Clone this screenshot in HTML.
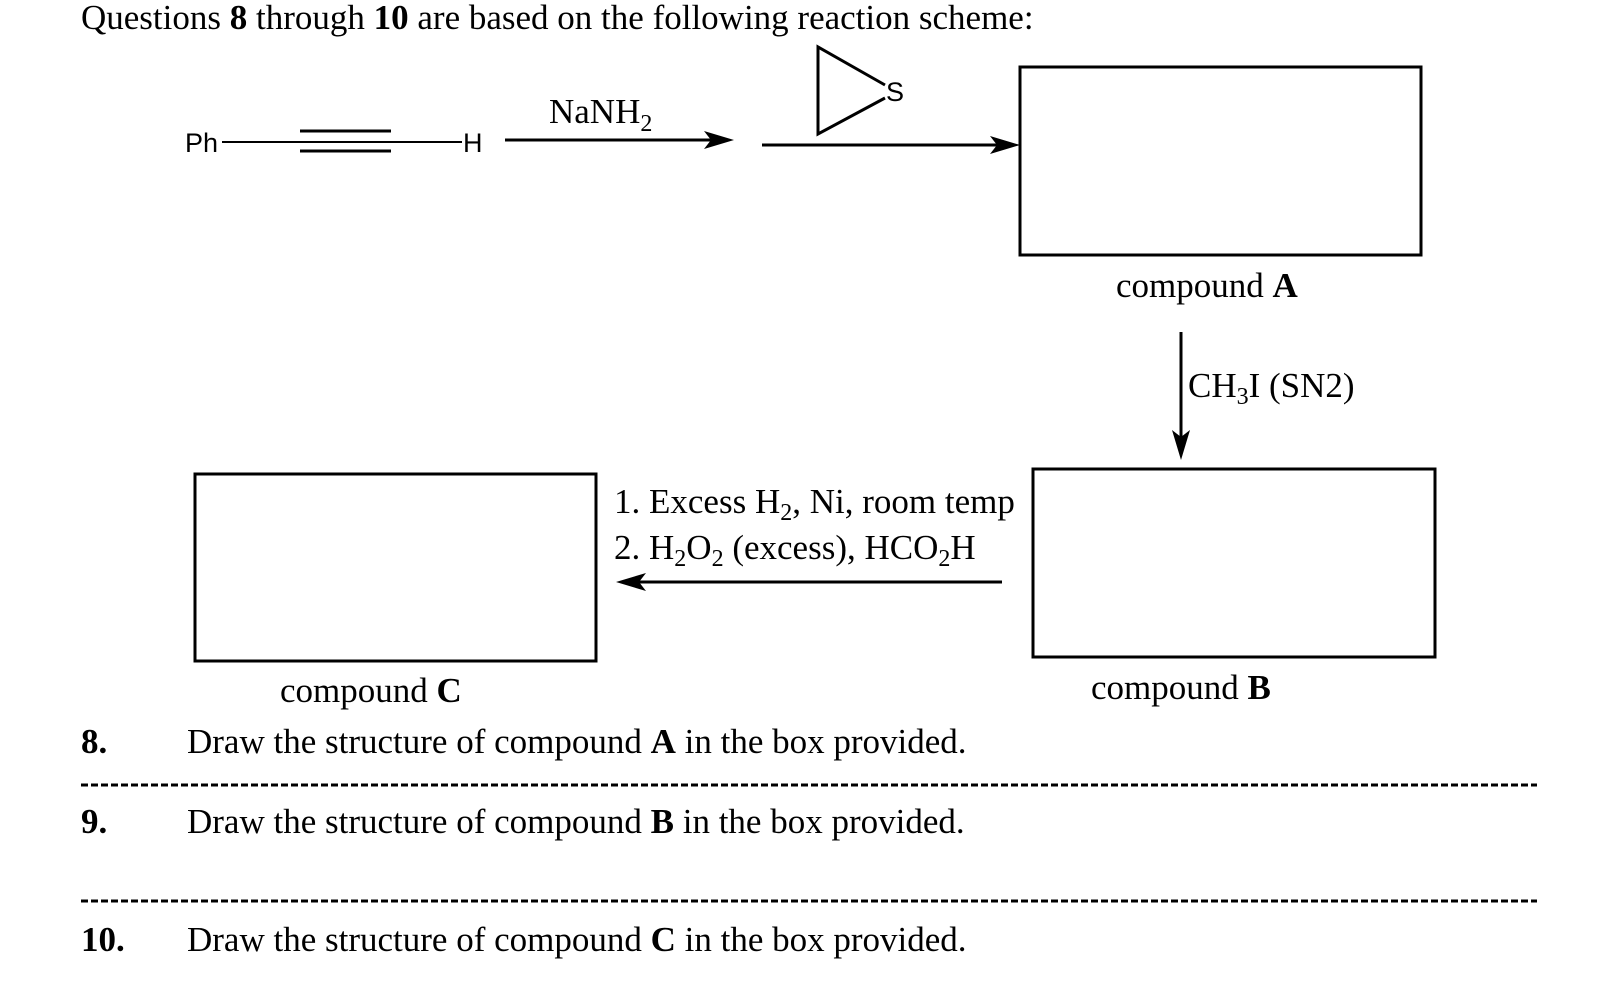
<!DOCTYPE html>
<html><head><meta charset="utf-8"><style>
html,body{margin:0;padding:0;background:#fff;}
svg{display:block;}
.t{font-family:"Liberation Serif",serif;font-size:35px;fill:#000;}
.s{font-family:"Liberation Sans",sans-serif;font-size:27px;fill:#000;}
</style></head><body>
<svg width="1622" height="990" viewBox="0 0 1622 990" xmlns="http://www.w3.org/2000/svg">
<text class="t" x="81" y="29">Questions <tspan font-weight="bold">8</tspan> through <tspan font-weight="bold">10</tspan> are based on the following reaction scheme:</text>

<text class="s" x="185" y="152">Ph</text>
<line x1="222" y1="142" x2="462" y2="142" stroke="#000" stroke-width="2"/>
<line x1="300" y1="131" x2="391" y2="131" stroke="#000" stroke-width="3"/>
<line x1="300" y1="151" x2="391" y2="151" stroke="#000" stroke-width="3"/>
<text class="s" x="463" y="152">H</text>
<text class="t" x="549" y="123">NaNH<tspan font-size="24" dy="8">2</tspan></text>
<line x1="505" y1="140" x2="715" y2="140" stroke="#000" stroke-width="3"/>
<polygon points="734,140 704,131 711,140 704,149" fill="#000"/>

<polyline points="885,85 818,47 818,134 885,98" fill="none" stroke="#000" stroke-width="3"/>
<text class="s" x="886" y="101">S</text>
<line x1="762" y1="145" x2="1000" y2="145" stroke="#000" stroke-width="3"/>
<polygon points="1020,145 990,136 997,145 990,154" fill="#000"/>

<rect x="1020" y="67" width="401" height="188" fill="none" stroke="#000" stroke-width="3"/>
<text class="t" x="1116" y="297">compound <tspan font-weight="bold">A</tspan></text>

<line x1="1181" y1="332" x2="1181" y2="440" stroke="#000" stroke-width="3"/>
<polygon points="1181,460 1172,430 1181,437 1190,430" fill="#000"/>
<text class="t" x="1188" y="397">CH<tspan font-size="24" dy="7">3</tspan><tspan dy="-7">I (SN2)</tspan></text>

<rect x="195" y="474" width="401" height="187" fill="none" stroke="#000" stroke-width="3"/>
<rect x="1033" y="469" width="402" height="188" fill="none" stroke="#000" stroke-width="3"/>
<text class="t" x="614" y="513">1. Excess H<tspan font-size="24" dy="7">2</tspan><tspan dy="-7">, Ni, room temp</tspan></text>
<text class="t" x="614" y="559">2. H<tspan font-size="24" dy="7">2</tspan><tspan dy="-7">O</tspan><tspan font-size="24" dy="7">2</tspan><tspan dy="-7"> (excess), HCO</tspan><tspan font-size="24" dy="7">2</tspan><tspan dy="-7">H</tspan></text>
<line x1="1002" y1="582" x2="635" y2="582" stroke="#000" stroke-width="3"/>
<polygon points="616,582 646,573 639,582 646,591" fill="#000"/>

<text class="t" x="280" y="702">compound <tspan font-weight="bold">C</tspan></text>
<text class="t" x="1091" y="699">compound <tspan font-weight="bold">B</tspan></text>

<text class="t" x="81" y="753" font-weight="bold">8.</text>
<text class="t" x="187" y="753">Draw the structure of compound <tspan font-weight="bold">A</tspan> in the box provided.</text>
<line x1="81" y1="785" x2="1537" y2="785" stroke="#000" stroke-width="3" stroke-dasharray="7,3"/>
<text class="t" x="81" y="833" font-weight="bold">9.</text>
<text class="t" x="187" y="833">Draw the structure of compound <tspan font-weight="bold">B</tspan> in the box provided.</text>
<line x1="81" y1="901" x2="1537" y2="901" stroke="#000" stroke-width="3" stroke-dasharray="7,3"/>
<text class="t" x="81" y="951" font-weight="bold">10.</text>
<text class="t" x="187" y="951">Draw the structure of compound <tspan font-weight="bold">C</tspan> in the box provided.</text>
</svg>
</body></html>
